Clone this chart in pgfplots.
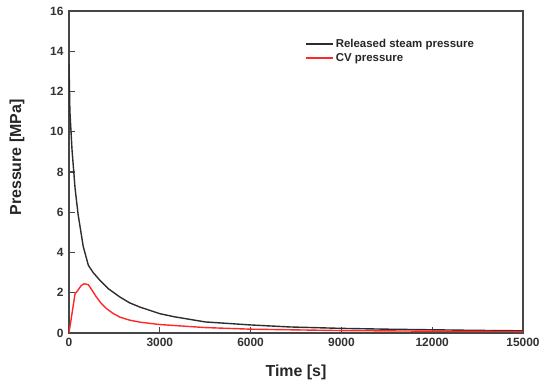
\documentclass[border=0pt]{standalone}
\usepackage{pgfplots}
\pgfplotsset{compat=1.18}
\usepackage{fontspec}
\setmainfont{Liberation Sans}
\definecolor{blk}{RGB}{45,45,45}
\definecolor{rd}{RGB}{255,40,40}
\definecolor{axc}{RGB}{70,70,70}
\begin{document}
\begin{tikzpicture}
\begin{axis}[
  name=ax,
  scale only axis,
  width=454bp, height=322bp,
  xmin=0, xmax=15000, ymin=0, ymax=16,
  scaled x ticks=false,
  xtick={0,3000,6000,9000,12000,15000},
  xticklabels={0,3000,6000,9000,12000,15000},
  ytick={0,2,4,6,8,10,12,14,16},
  tick pos=left,
  tick align=inside,
  major tick length=6bp,
  axis line style={axc, line width=1.2bp},
  every tick/.style={axc, line width=1.1bp},
  /pgf/number format/assume math mode=true,
  ticklabel style={font=\bfseries\fontsize{12}{14}\selectfont, text=black!80},
  xticklabel style={yshift=-2bp},
  yticklabel style={xshift=-2bp},
  xlabel={Time [s]},
  ylabel={Pressure [MPa]},
  label style={font=\bfseries\fontsize{16}{18}\selectfont, text=black!85},
  xlabel style={at={(axis description cs:0.5,-0.121)}, anchor=center},
  ylabel style={at={(axis description cs:-0.1145,0.545)}, anchor=center},
  legend style={at={(axis description cs:0.52,0.92)}, anchor=north west, draw=none, fill=none,
    font=\bfseries\fontsize{11.5}{13}\selectfont, text=black!85, row sep=0.3bp, inner sep=0pt},
  legend cell align=left,
  legend image code/.code={\draw[#1] (0bp,0bp) -- (27bp,0bp);},
]
\addlegendimage{blk, line width=1.5bp}
\addlegendentry{Released steam pressure}
\addlegendimage{rd, line width=1.5bp}
\addlegendentry{CV pressure}
\addplot[blk, line width=1.4bp, forget plot] coordinates {
(0,13.4) (30,11.0) (100,9.1) (200,7.2) (300,5.9) (470,4.3) (640,3.36) (800,3.0)
(1020,2.62) (1300,2.2) (1680,1.79) (2000,1.5) (2340,1.29) (3000,0.96) (3500,0.8)
(4500,0.55) (6000,0.4) (7300,0.3) (9000,0.23) (10500,0.19) (12000,0.16) (13500,0.13) (15000,0.11)
};
\addplot[rd, line width=1.4bp, forget plot] coordinates {
(0,0) (200,1.95) (253,2.04) (400,2.35) (500,2.45) (640,2.4) (750,2.15) (900,1.8)
(1050,1.5) (1240,1.21) (1450,0.98) (1680,0.79) (2000,0.64) (2340,0.54) (3000,0.42)
(4500,0.27) (6000,0.19) (9000,0.12) (12000,0.09) (15000,0.07)
};
\end{axis}
\pgfresetboundingbox
\path ([shift={(-69bp,-48bp)}]ax.south west) rectangle ([shift={(17bp,11bp)}]ax.north east);
\end{tikzpicture}
\end{document}
